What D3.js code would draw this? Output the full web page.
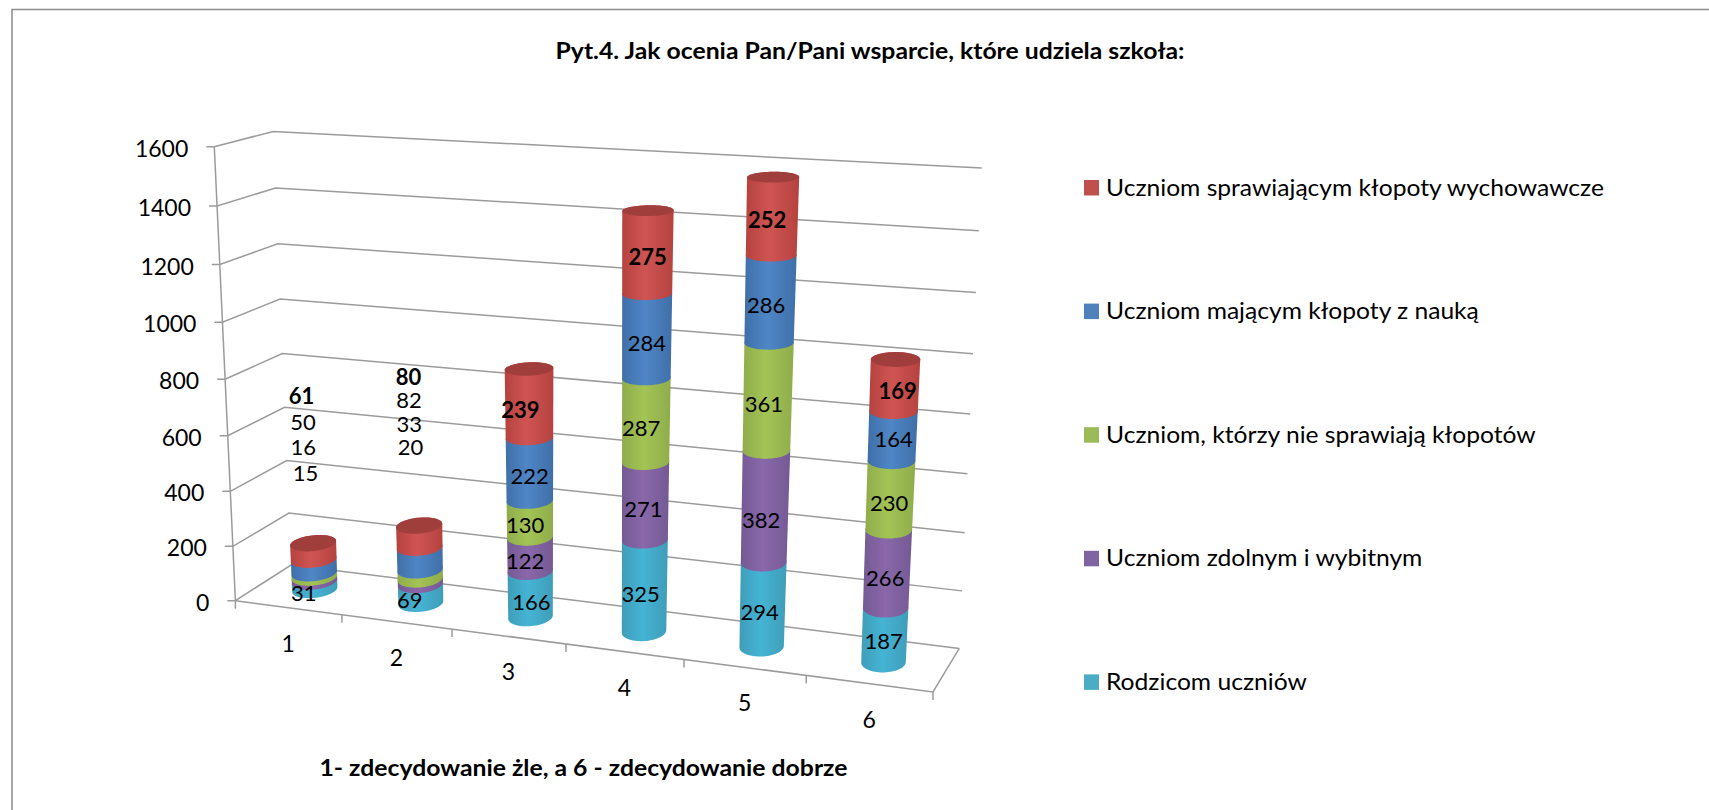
<!DOCTYPE html>
<html>
<head>
<meta charset="utf-8">
<script src="https://cdnjs.cloudflare.com/ajax/libs/d3/7.8.5/d3.min.js"></script>
<style>
html, body { margin: 0; padding: 0; background: #fff; }
svg { display: block; }
text { font-family: Lato, "Open Sans", sans-serif; fill: #000; }
</style>
</head>
<body>
<svg id="chart" width="1709" height="810"></svg>
<script>
var categories = ["1", "2", "3", "4", "5", "6"];
var seriesNames = [
	"Rodzicom uczniów",
	"Uczniom zdolnym i wybitnym",
	"Uczniom, którzy nie sprawiają kłopotów",
	"Uczniom mającym kłopoty z nauką",
	"Uczniom sprawiającym kłopoty wychowawcze"
];
var parents = [31, 69, 166, 325, 294, 187];
var gifted = [15, 20, 122, 271, 382, 266];
var noTrouble = [16, 33, 130, 287, 361, 230];
var learning = [50, 82, 222, 284, 286, 164];
var behaviour = [61, 80, 239, 275, 252, 169];
var yTicks = [0, 200, 400, 600, 800, 1000, 1200, 1400, 1600];

var seriesValues = [parents, gifted, noTrouble, learning, behaviour];
var colors = ["#4bacc6", "#8064a2", "#9bbb59", "#4f81bd", "#c0504d"];
var gradCenter = ["#45b4d4", "#8a68aa", "#a3c455", "#4f86c6", "#cf5553"];
var gradEdge = ["#3f9db9", "#745a94", "#8fac4b", "#3f6fa8", "#b5423f"];

// where the eight corners of the 3d box land on the page
var box = {
	flb: [235.4, 600.7], flt: [214.3, 146.8], blb: [291, 565], blt: [273.2, 131.4],
	frb: [933, 692], frt: [957, 193], brb: [959.3, 648.4], brt: [981.7, 168.1]
};

// data labels were dragged around by hand in the original, px from the segment middle
var labelNudge = [
	[[-11, 8], [-11, 7], [1, 8], [-4, 8], [-3, 8], [-1, 6]],
	[[-9, -106], [-10, -134], [-5, 7], [-2, 8], [-4, 13], [-2, 9]],
	[[-11, -128], [-11, -150], [-5, 6], [-5, 8], [-4, 7], [-1, 8]],
	[[-11, -144], [-11, -158], [0, 7], [0, 7], [-4, 6], [1, 3]],
	[[-12, -155], [-11, -159], [-9, 7], [0, 5], [-5, 4], [3, 6]]
];

var svg = d3.select("#chart");
var rows = categories.map(function(c, i) {
	var row = { category: c };
	seriesNames.forEach(function(name, s) { row[name] = seriesValues[s][i]; });
	return row;
});
var series = d3.stack().keys(seriesNames)(rows);

var xScale = d3.scaleLinear().domain([0, categories.length]).range([0, 1]);
var yScale = d3.scaleLinear().domain([0, 1600]).range([0, 1]);

// perspective squeeze along one axis
function warp(t, c) { return t / (t + c * (1 - t)); }
function mix(a, b, t) { return a + (b - a) * t; }

// u, v, w are 0..1 across, up and into the box
function project(u, v, w) {
	function corner(k) {
		var left = mix(mix(box.flb[k], box.flt[k], v), mix(box.blb[k], box.blt[k], v), w);
		var right = mix(mix(box.frb[k], box.frt[k], v), mix(box.brb[k], box.brt[k], v), w);
		return mix(left, right, u);
	}
	return [corner(0), corner(1)];
}
function uOf(pos) { return warp(xScale(pos), 1.11); }
function vOf(val) { return warp(yScale(val), 1.05); }

var line = d3.line();
var grid = svg.append("g").attr("fill", "none").attr("stroke", "#9b9b9b").attr("stroke-width", 1.5);

// page frame
grid.append("path").attr("stroke", "#8c8c8c").attr("d", line([[12, 810], [12, 9.5], [1709, 9.5]]));

yTicks.forEach(function(t) {
	var v = vOf(t);
	var front = project(0, v, 0);
	grid.append("path").attr("d", line([[front[0] - 8, front[1]], front, project(0, v, 1), project(1, v, 1)]));
});
grid.append("path").attr("d", line([project(0, 1, 0), project(0, 0, 0)]));
grid.append("path").attr("d", line([project(0, 0, 0), project(1, 0, 0), project(1, 0, 1)]));
d3.range(categories.length + 1).forEach(function(i) {
	var p = project(uOf(i), 0, 0);
	grid.append("path").attr("d", line([p, [p[0], p[1] + 8]]));
});

svg.selectAll(".y-label")
	.data(yTicks)
	.enter().append("text")
		.attr("class", "y-label")
		.attr("x", function(d) { return project(0, vOf(d), 0)[0] - 26; })
		.attr("y", function(d) { return project(0, vOf(d), 0)[1] + 2; })
		.attr("dy", "0.35em")
		.attr("text-anchor", "end")
		.style("font-size", "23px")
		.text(function(d) { return d; });

svg.selectAll(".x-label")
	.data(categories)
	.enter().append("text")
		.attr("class", "x-label")
		.attr("x", function(d, i) { return project(uOf(i + 0.5), 0, 0)[0]; })
		.attr("y", function(d, i) { return project(uOf(i + 0.5), 0, 0)[1] + 36; })
		.attr("dy", "0.35em")
		.attr("text-anchor", "middle")
		.style("font-size", "23px")
		.text(function(d) { return d; });

var defs = svg.append("defs");
seriesNames.forEach(function(name, s) {
	var grad = defs.append("linearGradient").attr("id", "grad" + s);
	grad.append("stop").attr("offset", "0%").attr("stop-color", gradEdge[s]);
	grad.append("stop").attr("offset", "45%").attr("stop-color", gradCenter[s]);
	grad.append("stop").attr("offset", "100%").attr("stop-color", gradEdge[s]);
});

var rW = 0.23, steps = 72;

// one ring of the cylinder at height val
function ring(i, val) {
	var uc = uOf(i + 0.5), v = vOf(val);
	var rU = 0.0275 + 0.004 * uc + 0.004 * v;
	return d3.range(steps).map(function(k) {
		var a = k / steps * 2 * Math.PI;
		return project(uc + rU * Math.cos(a), v, 0.5 + rW * Math.sin(a));
	});
}
function arc(points, from, to) {
	var out = [], k = from;
	while (true) {
		out.push(points[k]);
		if (k === to) break;
		k = (k + 1) % steps;
	}
	return out;
}
function leftmost(points) { return d3.least(d3.range(steps), function(k) { return points[k][0]; }); }
function rightmost(points) { return d3.greatest(d3.range(steps), function(k) { return points[k][0]; }); }

function segmentPath(i, lo, hi) {
	var bottom = ring(i, lo), top = ring(i, hi);
	var front = arc(bottom, leftmost(bottom), rightmost(bottom));
	var back = arc(top, rightmost(top), leftmost(top));
	return line(front.concat(back)) + "Z";
}

var bars = svg.append("g");
series.forEach(function(layer, s) {
	bars.selectAll(".seg" + s)
		.data(layer)
		.enter().append("path")
			.attr("class", "seg" + s)
			.attr("fill", "url(#grad" + s + ")")
			.attr("d", function(d, i) { return segmentPath(i, d[0], d[1]); });
});
bars.selectAll(".cap")
	.data(series[series.length - 1])
	.enter().append("path")
		.attr("class", "cap")
		.attr("fill", "#a03e3c")
		.attr("d", function(d, i) { return line(ring(i, d[1])) + "Z"; });

series.forEach(function(layer, s) {
	svg.selectAll(".val" + s)
		.data(layer)
		.enter().append("text")
			.attr("class", "val" + s)
			.attr("x", function(d, i) { return project(uOf(i + 0.5), vOf((d[0] + d[1]) / 2), 0.5)[0] + labelNudge[s][i][0]; })
			.attr("y", function(d, i) { return project(uOf(i + 0.5), vOf((d[0] + d[1]) / 2), 0.5)[1] + labelNudge[s][i][1]; })
			.attr("dy", "0.35em")
			.attr("text-anchor", "middle")
			.style("font-size", "22px")
			.style("font-weight", s === 4 ? 700 : 400)
			.text(function(d, i) { return seriesValues[s][i]; });
});

var legend = svg.selectAll(".legend")
	.data(seriesNames.slice().reverse())
	.enter().append("g")
		.attr("class", "legend")
		.attr("transform", function(d, i) { return "translate(1084, " + (187.5 + i * 123.6) + ")"; });
legend.append("rect")
	.attr("y", -7.5).attr("width", 15).attr("height", 15.5)
	.attr("fill", function(d, i) { return colors[4 - i]; });
legend.append("text")
	.attr("x", 22).attr("dy", "0.35em")
	.style("font-size", "23px")
	.text(function(d) { return d; })
	.attr("textLength", function() { return this.getComputedTextLength() * 1.07; })
	.attr("lengthAdjust", "spacingAndGlyphs");

svg.append("text").attr("x", 870).attr("y", 51).attr("dy", "0.35em")
	.attr("text-anchor", "middle").style("font-size", "22px").style("font-weight", 700)
	.attr("textLength", 629).attr("lengthAdjust", "spacingAndGlyphs")
	.text("Pyt.4. Jak ocenia Pan/Pani wsparcie, które udziela szkoła:");
svg.append("text").attr("x", 583.5).attr("y", 768).attr("dy", "0.35em")
	.attr("text-anchor", "middle").style("font-size", "22px").style("font-weight", 700)
	.attr("textLength", 528).attr("lengthAdjust", "spacingAndGlyphs")
	.text("1- zdecydowanie żle, a 6 - zdecydowanie dobrze");
</script>
</body>
</html>
